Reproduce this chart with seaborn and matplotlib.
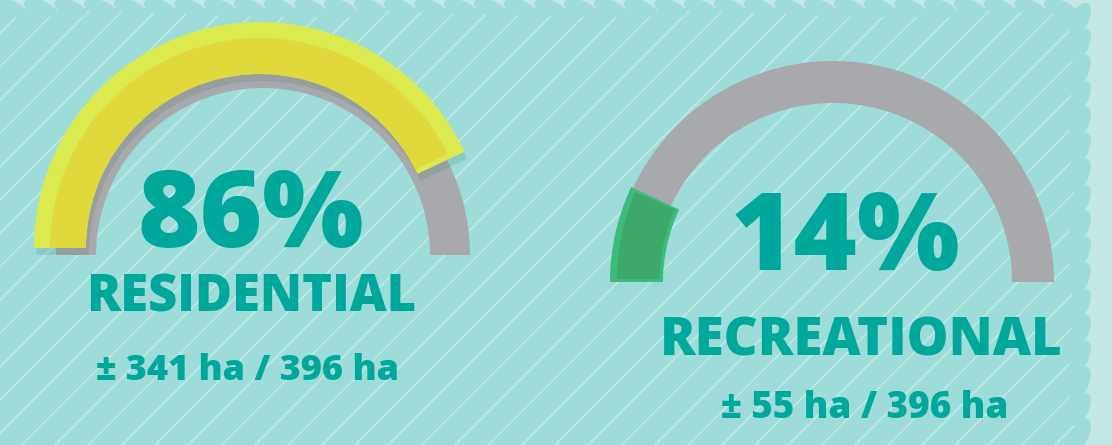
import numpy as np
import seaborn as sns
import matplotlib.pyplot as plt
from matplotlib.patches import Wedge, Rectangle, Ellipse
from matplotlib import patheffects

# Land use split of the 396 ha site
categories = ['RESIDENTIAL', 'RECREATIONAL']
shares = [86, 14]          # percent
areas = [341, 55]          # ha
total_area = 396           # ha

sns.set_theme(style='white')
plt.rcParams['font.family'] = ['Open Sans', 'DejaVu Sans']
plt.rcParams['hatch.linewidth'] = 1.3

BG = '#9ddcd8'
STRIP = '#c2e8e6'
TEAL = '#00a89c'
GRAY = '#a7a9ac'

fig = plt.figure(figsize=(11.12, 4.45), dpi=100, facecolor=STRIP)
ax = fig.add_axes([0, 0, 1, 1])
ax.set_xlim(0, 1112)
ax.set_ylim(0, 445)
ax.axis('off')

# hatched teal panel
panel = Rectangle((0, 0), 1080, 437, facecolor=BG, edgecolor='#bde8e4',
                  hatch='/', linewidth=0, zorder=0)
ax.add_patch(panel)
# scalloped edges of the panel
for yy in np.arange(10, 445, 26):
    ax.add_patch(Ellipse((1080, yy), 16, 34, angle=-25, color=BG, zorder=0.5))
for xx in np.arange(10, 1080, 30):
    ax.add_patch(Ellipse((xx, 437), 32, 14, angle=-20, color=BG, zorder=0.5))

# gauge layout: (cx, cy, R, width) for the grey track, colours of the fill
gauges = [
    dict(track=(263, 190, 207, 40), fill=(260, 197, 226, 52), inner=(260, 197, 210, 36),
         light='#dbea4f', dark='#dfd93b', shadow=True, sizes=(77, 36.5, 26),
         num_xy=(251, 198), lab_xy=(251, 133), sub_xy=(248, 65)),
    dict(track=(833, 163, 221, 42), fill=(833, 163, 223, 53), inner=(833, 166, 216, 43),
         light='#3dbb7d', dark='#3ea86b', shadow=False, sizes=(78, 38, 26.5),
         num_xy=(845, 175), lab_xy=(861, 90), sub_xy=(865, 27)),
]

for cat, pct, area, g in zip(categories, shares, areas, gauges):
    cx, cy, r, w = g['track']
    ax.add_patch(Wedge((cx, cy), r, 0, 180, width=w, facecolor=GRAY, edgecolor='none', zorder=1))
    end_angle = 180 - 180 * pct / 100
    fx, fy, fr, fw = g['fill']
    light = Wedge((fx, fy), fr, end_angle, 180, width=fw, facecolor=g['light'],
                  edgecolor='none', zorder=2)
    if g['shadow']:
        light.set_path_effects([patheffects.SimplePatchShadow(offset=(2, -5), shadow_rgbFace='#1f4f4c',
                                                              alpha=0.12),
                                patheffects.Normal()])
    ax.add_patch(light)
    ix, iy, ir, iw = g['inner']
    ax.add_patch(Wedge((ix, iy), ir, end_angle + 1.5, 180, width=iw, facecolor=g['dark'],
                       edgecolor='none', zorder=3))

    big, mid, small = g['sizes']
    ax.text(*g['num_xy'], f'{pct}%', ha='center', va='baseline', fontsize=big,
            fontweight=800, color=TEAL, zorder=5)
    ax.text(*g['lab_xy'], cat, ha='center', va='baseline', fontsize=mid,
            fontweight=800, color=TEAL, zorder=5)
    ax.text(*g['sub_xy'], f'± {area} ha / {total_area} ha', ha='center', va='baseline',
            fontsize=small, fontweight=800, color=TEAL, zorder=5)

fig.savefig('out.png', dpi=100, facecolor=fig.get_facecolor())
